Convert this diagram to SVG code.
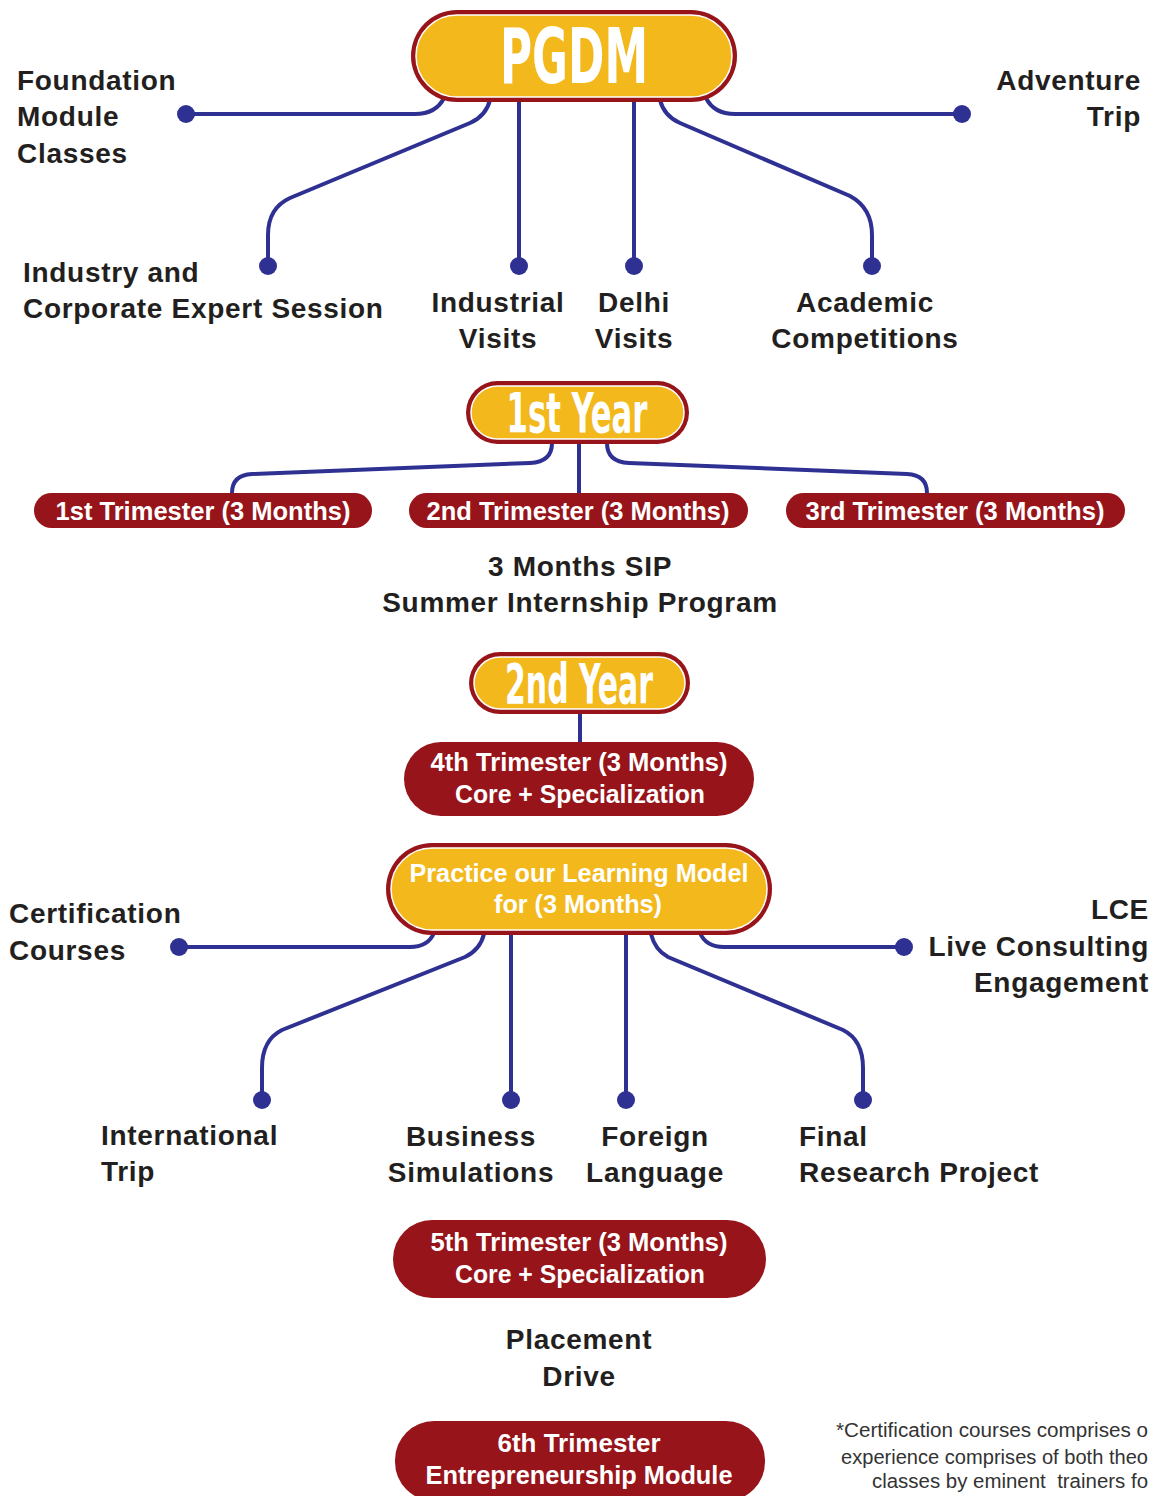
<svg xmlns="http://www.w3.org/2000/svg" width="1157" height="1496" viewBox="0 0 1157 1496">
<style>
.lbl{font-family:"Liberation Sans","DejaVu Sans",sans-serif;font-weight:bold;font-size:28px;letter-spacing:0.7px;fill:#231F20}
.mid{text-anchor:middle}
.end{text-anchor:end}
.wt{font-family:"Liberation Sans","DejaVu Sans",sans-serif;font-weight:bold;font-size:25px;fill:#ffffff;text-anchor:middle}
.big{font-family:"DejaVu Sans Condensed","DejaVu Sans",sans-serif;font-stretch:condensed;font-weight:bold;fill:#ffffff;text-anchor:middle}
.ring{fill:#96141A}
.core{fill:#F2B81C;stroke:#ffffff;stroke-width:1.5}
.pill{fill:#96141A}
.con{fill:none;stroke:#2E3192;stroke-width:4}
.dot{fill:#2E3192}
.note{font-family:"Liberation Sans","DejaVu Sans",sans-serif;font-size:20px;fill:#333333}
</style>
<rect width="1157" height="1496" fill="#ffffff"/>

<g id="connectors">
<path class="con" d="M186,114 H415 Q436,114 444,98"/>
<path class="con" d="M490,100 Q486,116 470,123 L290,198 Q268,208 268,235 V266"/>
<path class="con" d="M519,100 V266"/>
<path class="con" d="M634,100 V266"/>
<path class="con" d="M660,100 Q664,116 680,123 L850,196 Q872,208 872,235 V266"/>
<path class="con" d="M706,98 Q714,114 735,114 H962"/>
<path class="con" d="M552,443 Q552,462 530,463 L252,474 Q232,475 232,493"/>
<path class="con" d="M579,443 V493"/>
<path class="con" d="M607,443 Q607,462 629,463 L907,474 Q927,475 927,493"/>
<path class="con" d="M580,713 V742"/>
<path class="con" d="M179,947 H410 Q428,947 434,933"/>
<path class="con" d="M484,934 Q480,950 465,957 L282,1030 Q262,1040 262,1068 V1100"/>
<path class="con" d="M511,934 V1100"/>
<path class="con" d="M626,934 V1100"/>
<path class="con" d="M651,934 Q655,950 668,957 L843,1030 Q863,1040 863,1068 V1100"/>
<path class="con" d="M700,933 Q706,947 724,947 H904"/>
<circle class="dot" cx="186" cy="114" r="9"/>
<circle class="dot" cx="268" cy="266" r="9"/>
<circle class="dot" cx="519" cy="266" r="9"/>
<circle class="dot" cx="634" cy="266" r="9"/>
<circle class="dot" cx="872" cy="266" r="9"/>
<circle class="dot" cx="962" cy="114" r="9"/>
<circle class="dot" cx="179" cy="947" r="9"/>
<circle class="dot" cx="262" cy="1100" r="9"/>
<circle class="dot" cx="511" cy="1100" r="9"/>
<circle class="dot" cx="626" cy="1100" r="9"/>
<circle class="dot" cx="863" cy="1100" r="9"/>
<circle class="dot" cx="904" cy="947" r="9"/>
</g>

<g id="pgdm">
<rect class="ring" x="411" y="10" width="326" height="92" rx="46"/>
<rect class="core" x="416" y="15" width="316" height="82" rx="41"/>
<text class="big" x="574" y="83" font-size="76" textLength="148" lengthAdjust="spacingAndGlyphs">PGDM</text>
</g>

<g id="foundation"><text class="lbl" x="17" y="90">Foundation</text><text class="lbl" x="17" y="126">Module</text><text class="lbl" x="17" y="163">Classes</text></g>
<g id="industry"><text class="lbl" x="23" y="282">Industry and</text><text class="lbl" x="23" y="318">Corporate Expert Session</text></g>
<g id="industrial"><text class="lbl mid" x="498" y="312">Industrial</text><text class="lbl mid" x="498" y="348">Visits</text></g>
<g id="delhi"><text class="lbl mid" x="634" y="312">Delhi</text><text class="lbl mid" x="634" y="348">Visits</text></g>
<g id="academic"><text class="lbl mid" x="865" y="312">Academic</text><text class="lbl mid" x="865" y="348">Competitions</text></g>
<g id="adventure"><text class="lbl end" x="1141" y="90">Adventure</text><text class="lbl end" x="1141" y="126">Trip</text></g>

<g id="year1">
<rect class="ring" x="466" y="381" width="223" height="63" rx="31.5"/>
<rect class="core" x="471" y="386" width="213" height="53" rx="26.5"/>
<text class="big" x="577" y="432" font-size="55" textLength="141" lengthAdjust="spacingAndGlyphs">1st Year</text>
</g>

<g id="tri1"><rect class="pill" x="34" y="493" width="338" height="35" rx="17.5"/><text class="wt" x="203" y="520" textLength="295" lengthAdjust="spacingAndGlyphs">1st Trimester (3 Months)</text></g>
<g id="tri2"><rect class="pill" x="409" y="493" width="339" height="35" rx="17.5"/><text class="wt" x="578" y="520" textLength="303" lengthAdjust="spacingAndGlyphs">2nd Trimester (3 Months)</text></g>
<g id="tri3"><rect class="pill" x="786" y="493" width="339" height="35" rx="17.5"/><text class="wt" x="955" y="520" textLength="299" lengthAdjust="spacingAndGlyphs">3rd Trimester (3 Months)</text></g>

<g id="sip"><text class="lbl mid" x="580" y="576">3 Months SIP</text><text class="lbl mid" x="580" y="612">Summer Internship Program</text></g>

<g id="year2">
<rect class="ring" x="469" y="652" width="221" height="62" rx="31"/>
<rect class="core" x="474" y="657" width="211" height="52" rx="26"/>
<text class="big" x="579" y="703" font-size="55" textLength="148" lengthAdjust="spacingAndGlyphs">2nd Year</text>
</g>

<g id="tri4"><rect class="pill" x="404" y="742" width="350" height="74" rx="37"/>
<text class="wt" x="579" y="771" textLength="297" lengthAdjust="spacingAndGlyphs">4th Trimester (3 Months)</text>
<text class="wt" x="580" y="803" textLength="250" lengthAdjust="spacingAndGlyphs">Core + Specialization</text></g>

<g id="practice">
<rect class="ring" x="386" y="843" width="386" height="92" rx="46"/>
<rect class="core" x="391" y="848" width="376" height="82" rx="41"/>
<text class="wt" x="579" y="882" font-size="26" textLength="339" lengthAdjust="spacingAndGlyphs">Practice our Learning Model</text>
<text class="wt" x="578" y="913" font-size="26" textLength="168" lengthAdjust="spacingAndGlyphs">for (3 Months)</text>
</g>

<g id="cert"><text class="lbl" x="9" y="923">Certification</text><text class="lbl" x="9" y="960">Courses</text></g>
<g id="lce"><text class="lbl end" x="1149" y="919">LCE</text><text class="lbl end" x="1149" y="956">Live Consulting</text><text class="lbl end" x="1149" y="992">Engagement</text></g>
<g id="intl"><text class="lbl" x="101" y="1145">International</text><text class="lbl" x="101" y="1181">Trip</text></g>
<g id="business"><text class="lbl mid" x="471" y="1146">Business</text><text class="lbl mid" x="471" y="1182">Simulations</text></g>
<g id="foreign"><text class="lbl mid" x="655" y="1146">Foreign</text><text class="lbl mid" x="655" y="1182">Language</text></g>
<g id="final"><text class="lbl" x="799" y="1146">Final</text><text class="lbl" x="799" y="1182">Research Project</text></g>

<g id="tri5"><rect class="pill" x="393" y="1220" width="373" height="78" rx="39"/>
<text class="wt" x="579" y="1251" textLength="297" lengthAdjust="spacingAndGlyphs">5th Trimester (3 Months)</text>
<text class="wt" x="580" y="1283" textLength="250" lengthAdjust="spacingAndGlyphs">Core + Specialization</text></g>

<g id="placement"><text class="lbl mid" x="579" y="1349">Placement</text><text class="lbl mid" x="579" y="1386">Drive</text></g>

<g id="tri6"><rect class="pill" x="395" y="1421" width="370" height="80" rx="39"/>
<text class="wt" x="579" y="1452" textLength="163" lengthAdjust="spacingAndGlyphs">6th Trimester</text>
<text class="wt" x="579" y="1484" textLength="307" lengthAdjust="spacingAndGlyphs">Entrepreneurship Module</text></g>

<g id="footnote">
<text class="note" x="836" y="1437" textLength="312" lengthAdjust="spacingAndGlyphs">*Certification courses comprises o</text>
<text class="note" x="841" y="1464" textLength="307" lengthAdjust="spacingAndGlyphs">experience comprises of both theo</text>
<text class="note" x="872" y="1488" textLength="276" lengthAdjust="spacingAndGlyphs">classes by eminent&#160; trainers fo</text>
</g>
</svg>
